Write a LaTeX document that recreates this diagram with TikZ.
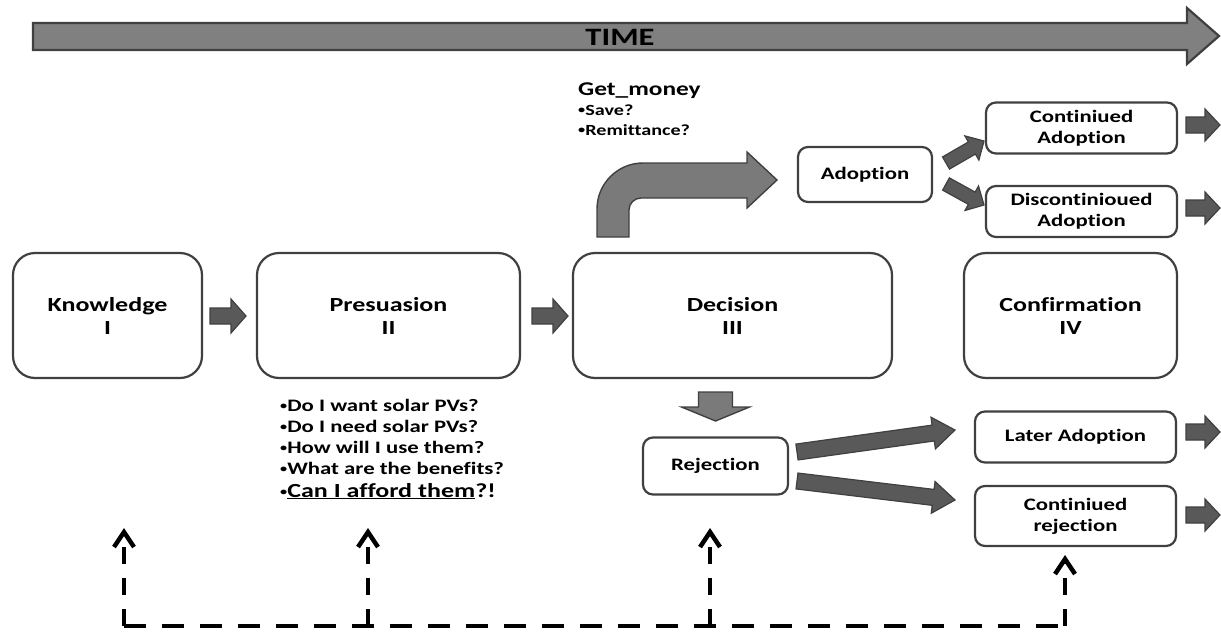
\documentclass[tikz,border=0pt]{standalone}
\usepackage{fontspec}
\setmainfont{Carlito}[FakeStretch=1.3, Ligatures=NoCommon]
\usetikzlibrary{arrows.meta,calc}

\definecolor{edge}{HTML}{404040}
\definecolor{darkfill}{HTML}{595959}
\definecolor{midfill}{HTML}{7A7A7A}
\definecolor{timefill}{HTML}{808080}

\newcommand\fs[2]{\fontsize{#1}{#2}\selectfont}
\newcommand\bul{\raisebox{1.3pt}{\fs{11}{11}•}}

% block arrow between two points: [style]{from}{to}{shaft half width}{head half width}{head length}
\newcommand\blockarrow[6][barrow]{%
  \draw[#1] let \p1=(#2), \p2=(#3),
      \n1={atan2(\y2-\y1,\x2-\x1)}, \n2={veclen(\x2-\x1,\y2-\y1)} in
    [shift={(\p1)}, rotate=\n1]
    (0pt,{-#4*1pt}) -- ({(\n2-#6)*1pt},{-#4*1pt}) -- ({(\n2-#6)*1pt},{-#5*1pt})
    -- ({\n2*1pt},0pt) -- ({(\n2-#6)*1pt},{#5*1pt}) -- ({(\n2-#6)*1pt},{#4*1pt})
    -- (0pt,{#4*1pt}) -- cycle;}

\tikzset{
  stage/.style={draw=edge, line width=2.2pt, rounded corners=22pt, fill=white,
    font=\bfseries\fs{20}{23}, align=center, inner sep=0pt},
  outcome/.style={draw=edge, line width=2.2pt, rounded corners=10pt, fill=white,
    font=\bfseries\fs{17.5}{21}, align=center, inner sep=0pt},
  barrow/.style={draw=edge, line width=1.2pt, fill=darkfill, line join=miter},
  lightarrow/.style={draw=edge, line width=1.4pt, fill=midfill, line join=miter},
  hdash/.style={line width=4pt, dash pattern=on 22pt off 16pt},
  vdash/.style={line width=4pt, dash pattern=on 17pt off 14pt,
    -{Straight Barb[length=15pt,width=20pt,line width=4.5pt]}},
  money/.style={font=\bfseries\fs{15.5}{18}, anchor=base west, inner sep=0pt},
  question/.style={font=\bfseries\fs{17.5}{20}, anchor=base west, inner sep=0pt},
}

\begin{document}
\begin{tikzpicture}[x=1pt,y=-1pt]
\useasboundingbox (0,0) rectangle (1221,632);

% time axis
\draw[draw=edge, line width=2.2pt, fill=timefill, line join=miter]
  (33,23) -- (1187,23) -- (1187,8) -- (1219,36) -- (1187,64) -- (1187,50) -- (33,50) -- cycle;
\node[font=\bfseries\fs{25}{25}, inner sep=0pt] (time) at (620,37) {TIME};

% the four stages
\node[stage, minimum width=189pt, minimum height=125pt] (know) at (107.5,315.5) {Knowledge\\I};
\node[stage, minimum width=263pt, minimum height=125pt] (pers) at (388.5,315.5) {Presuasion\\II};
\node[stage, minimum width=319pt, minimum height=125pt] (dec)  at (732.5,315.5) {Decision\\III};
\node[stage, minimum width=213pt, minimum height=125pt] (conf) at (1070.5,315.5) {Confirmation\\IV};

% outcomes
\node[outcome, minimum width=134pt, minimum height=55pt] (adopt) at (865,174.5) {Adoption};
\node[outcome, minimum width=191pt, minimum height=51pt] (contad) at (1081.5,128) {Continiued\\Adoption};
\node[outcome, minimum width=191pt, minimum height=51pt] (discad) at (1081.5,211.5) {Discontinioued\\Adoption};
\node[outcome, minimum width=145pt, minimum height=57pt] (rej) at (715.5,466) {Rejection};
\node[outcome, minimum width=201pt, minimum height=51pt] (later) at (1075.5,437) {Later Adoption};
\node[outcome, minimum width=201pt, minimum height=60pt] (contrej) at (1075.5,516) {Continiued\\rejection};

% funding note
\node[font=\bfseries\fs{19.5}{20}, anchor=base west, inner sep=0pt] (gm) at (578,95) {Get\_money};
\node[money] (gm1) at (578,115) {\bul Save?};
\node[money] (gm2) at (578,135) {\bul Remittance?};

% persuasion questions
\node[question] (q1) at (280,411) {\bul Do I want solar PVs?};
\node[question] (q2) at (280,432) {\bul Do I need solar PVs?};
\node[question] (q3) at (280,453) {\bul How will I use them?};
\node[question] (q4) at (280,474) {\bul What are the benefits?};
\node[question, font=\bfseries\fs{20}{22}] (q5) at (280,497) {\bul\underline{Can I afford them}?!};

% flow between stages
\blockarrow{210,316}{246,316}{8}{17}{15}
\blockarrow{532,316}{568,316}{8}{17}{15}

% decision towards adoption
\draw[lightarrow]
  (597,237) [rounded corners=46pt] -- (597,163) [sharp corners] -- (747,163) -- (747,152)
  -- (777,180) -- (747,208) -- (747,198) [rounded corners=12pt] -- (629,198)
  [sharp corners] -- (629,237) -- cycle;

% decision towards rejection
\blockarrow[lightarrow]{715.5,392}{715.5,421}{17}{34}{14}

% adoption branches
\blockarrow{946,163}{984,141}{7}{14}{14}
\blockarrow{946,184}{984,205}{7}{14}{14}

% rejection branches
\blockarrow{797,452}{955,430}{8}{16}{22}
\blockarrow{797,481}{955,500}{8}{16}{22}

% continuing arrows on the right
\coordinate (e1) at (1220,125);
\coordinate (e2) at (1220,208);
\coordinate (e3) at (1220,432);
\coordinate (e4) at (1220,515);
\blockarrow{1186,125}{e1}{8}{16}{15}
\blockarrow{1186,208}{e2}{8}{16}{15}
\blockarrow{1186,432}{e3}{8}{16}{15}
\blockarrow{1186,515}{e4}{8}{16}{15}

% feedback loop
\coordinate (bk) at (124,626);
\coordinate (bp) at (368,626);
\coordinate (bd) at (710,626);
\coordinate (br) at (1065,626);
\coordinate (fk) at (124,528);
\coordinate (fp) at (368,528);
\coordinate (fd) at (710,528);
\coordinate (fr) at (1065,555);
\draw[hdash] (bk) -- (br);
\draw[vdash] (bk) -- (fk);
\draw[vdash] (bp) -- (fp);
\draw[vdash] (bd) -- (fd);
\draw[vdash] (br) -- (fr);
\end{tikzpicture}
\end{document}
